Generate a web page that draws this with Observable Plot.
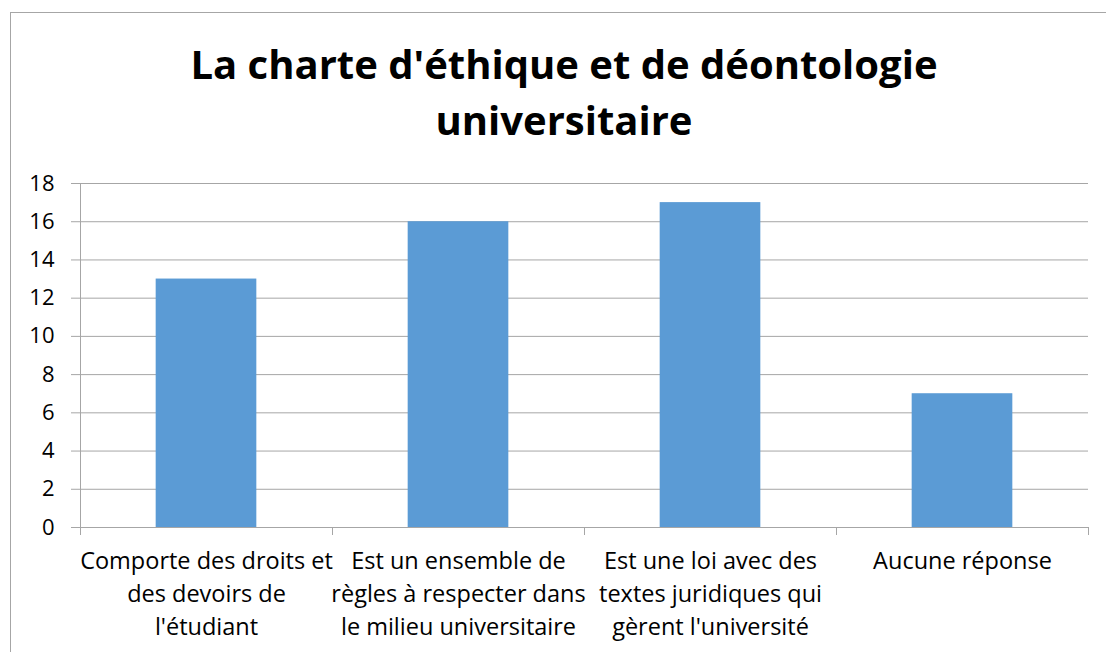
<!DOCTYPE html>
<html>
<head>
<meta charset="utf-8">
<script src="https://cdn.jsdelivr.net/npm/d3@7"></script>
<script src="https://cdn.jsdelivr.net/npm/@observablehq/plot@0.6"></script>
<style>
  html, body { margin: 0; padding: 0; background: #fff; }
  #wrap { position: relative; width: 1106px; height: 652px; overflow: hidden; font-family: "Open Sans", sans-serif; }
  #frame { position: absolute; left: 10px; top: 12px; width: 1200px; height: 700px; border-left: 1px solid #a6a6a6; border-top: 1px solid #a6a6a6; }
  #title { position: absolute; left: 10px; width: 1108px; top: 36px; text-align: center; font-weight: bold; font-size: 40px; line-height: 56px; color: #000; }
  #chart { position: absolute; left: 0; top: 0; }
</style>
</head>
<body>
<div id="wrap">
  <div id="frame"></div>
  <div id="title">La charte d'éthique et de déontologie<br>universitaire</div>
  <div id="chart"></div>
</div>
<script>
const categories = [
  "Comporte des droits et des devoirs de l'étudiant",
  "Est un ensemble de règles à respecter dans le milieu universitaire",
  "Est une loi avec des textes juridiques qui gèrent l'université",
  "Aucune réponse"
];
const categoryLabels = [
  "Comporte des droits et\ndes devoirs de\nl'étudiant",
  "Est un ensemble de\nrègles à respecter dans\nle milieu universitaire",
  "Est une loi avec des\ntextes juridiques qui\ngèrent l'université",
  "Aucune réponse"
];
const values = [13, 16, 17, 7];
const yTicks = [0, 2, 4, 6, 8, 10, 12, 14, 16, 18];

const data = categories.map((c, i) => ({category: c, label: categoryLabels[i], value: values[i]}));
const labelOf = new Map(data.map(d => [d.category, d.label]));

const W = 1106, H = 652;
const mLeft = 79, mRight = 18, mTop = 183, mBottom = 125;
const bandW = (W - mLeft - mRight) / categories.length;
const gridColor = "#a6a6a6";

const axisLines = (index, scales, values, dims) => {
  const g = d3.create("svg:g");
  const x = scales.x, y = scales.y;
  const bw = scales.scales.x.bandwidth;
  const y0 = y(0);
  const xs = categories.map(c => x(c)).concat([x(categories[categories.length - 1]) + bw]);
  for (const xv of xs) {
    g.append("line").attr("x1", xv + 0.5).attr("x2", xv + 0.5)
      .attr("y1", y0).attr("y2", y0 + 8)
      .attr("stroke", gridColor).attr("stroke-width", 1);
  }
  g.append("line").attr("x1", xs[0] + 0.5).attr("x2", xs[0] + 0.5)
    .attr("y1", y(18)).attr("y2", y0 + 8)
    .attr("stroke", gridColor).attr("stroke-width", 1);
  return g.node();
};

const chart = Plot.plot({
  width: W, height: H,
  marginLeft: mLeft, marginRight: mRight, marginTop: mTop, marginBottom: mBottom,
  style: {fontFamily: "'Open Sans', sans-serif", background: "transparent", overflow: "visible"},
  x: {domain: categories, padding: 0, axis: null},
  y: {domain: [0, 18], axis: null},
  marks: [
    Plot.ruleY(yTicks.filter(t => t > 0), {y: d => d, stroke: gridColor, strokeOpacity: 1, strokeWidth: 1}),
    Plot.barY(data, {x: "category", y: "value", fill: "#5b9bd5", insetLeft: bandW * 0.3, insetRight: bandW * 0.3}),
    Plot.ruleY([0], {stroke: gridColor, strokeWidth: 1}),
    Plot.axisY({ticks: yTicks, tickSize: 8, stroke: gridColor, tickPadding: 17, fontSize: 22, fill: "#000", label: null, tickFormat: d => String(d)}),
    Plot.axisX({tickSize: 0, tickPadding: 18, fontSize: 23.5, fill: "#000", label: null, lineHeight: 1.4, tickFormat: d => labelOf.get(d), textAnchor: "middle"}),
    axisLines
  ]
});
document.getElementById("chart").appendChild(chart);
</script>
</body>
</html>
